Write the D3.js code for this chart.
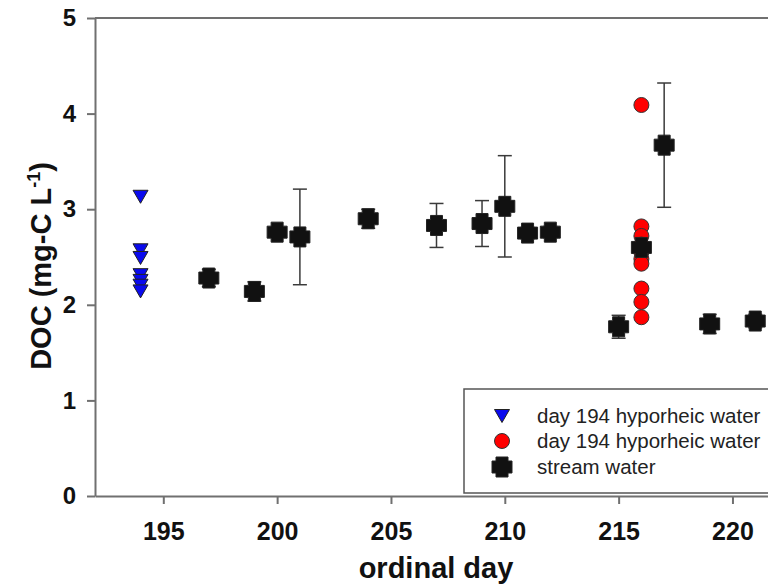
<!DOCTYPE html>
<html><head><meta charset="utf-8">
<script src="https://cdn.jsdelivr.net/npm/d3@7/dist/d3.min.js"></script>
<style>html,body{margin:0;padding:0;background:#fff;}svg{display:block;}</style>
</head><body>
<script>
// Data
const triDay = 194;
const triValues = [3.13, 2.57, 2.49, 2.31, 2.25, 2.20, 2.14];
const circDay = 216;
const circValues = [4.09, 2.82, 2.72, 2.63, 2.55, 2.48, 2.43, 2.17, 2.03, 1.87];
const streamDays = [197, 199, 200, 201, 204, 207, 209, 210, 211, 212, 215, 216, 217, 219, 221];
const streamValues = [2.28, 2.14, 2.76, 2.71, 2.90, 2.83, 2.85, 3.03, 2.75, 2.76, 1.77, 2.60, 3.67, 1.80, 1.83];
const streamErr = [0.09, 0.10, 0.05, 0.50, 0.10, 0.23, 0.24, 0.53, 0.06, 0.06, 0.12, 0.05, 0.65, 0.10, 0.07];
const xTicks = [195, 200, 205, 210, 215, 220];
const yTicks = [0, 1, 2, 3, 4, 5];
const legendLabels = ["day 194 hyporheic water", "day 194 hyporheic water", "stream water"];

const W = 768, H = 586;
const svg = d3.select("body").append("svg").attr("width", W).attr("height", H);
const x = d3.scaleLinear().domain([192, 222]).range([95, 778]);
const y = d3.scaleLinear().domain([0, 5]).range([496, 18]);
const axisColor = "#707070";
const font = "'Liberation Sans', Arial, sans-serif";

// frame top line
svg.append("line").attr("x1", x(192)).attr("x2", W + 20).attr("y1", y(5)).attr("y2", y(5))
  .attr("stroke", axisColor).attr("stroke-width", 2);

// x axis
const gx = svg.append("g").attr("transform", `translate(0,${y(0)})`)
  .call(d3.axisBottom(x).tickValues(xTicks).tickFormat(d3.format("d")).tickSize(8).tickSizeOuter(0).tickPadding(18));
gx.select(".domain").attr("stroke", axisColor).attr("stroke-width", 2);
gx.selectAll(".tick line").attr("stroke", axisColor).attr("stroke-width", 2);
gx.selectAll(".tick text").attr("font-family", font).attr("font-weight", "bold")
  .attr("font-size", 25).attr("fill", "#111");

// y axis
const gy = svg.append("g").attr("transform", `translate(${x(192)},0)`)
  .call(d3.axisLeft(y).tickValues(yTicks).tickFormat(d3.format("d")).tickSize(8).tickSizeOuter(0).tickPadding(11));
gy.select(".domain").attr("stroke", axisColor).attr("stroke-width", 2);
gy.selectAll(".tick line").attr("stroke", axisColor).attr("stroke-width", 2);
gy.selectAll(".tick text").attr("font-family", font).attr("font-weight", "bold")
  .attr("font-size", 24).attr("fill", "#111");

// axis titles
svg.append("text").attr("x", 436).attr("y", 578).attr("text-anchor", "middle")
  .attr("font-family", font).attr("font-weight", "bold").attr("font-size", 29).attr("fill", "#111")
  .text("ordinal day");
const yt = svg.append("text").attr("transform", "translate(51,266) rotate(-90)").attr("text-anchor", "middle")
  .attr("font-family", font).attr("font-weight", "bold").attr("font-size", 29).attr("fill", "#111");
yt.append("tspan").text("DOC (mg-C L");
yt.append("tspan").attr("dy", -11).attr("font-size", 18).text("-1");
yt.append("tspan").attr("dy", 11).text(")");

// shapes
const triPath = "M-7.5,-6.5 L7.5,-6.5 L0,6.5 Z";
function crossD() {
  const L = 10, a = 6;
  return `M${-a},${-L}H${a}V${-a}H${L}V${a}H${a}V${L}H${-a}V${a}H${-L}V${-a}H${-a}Z`;
}

// error bars
const eg = svg.append("g");
streamDays.forEach((d, i) => {
  const cx = x(d), v = streamValues[i], e = streamErr[i];
  eg.append("line").attr("x1", cx).attr("x2", cx).attr("y1", y(v + e)).attr("y2", y(v - e))
    .attr("stroke", "#3a3a3a").attr("stroke-width", 1.5);
  [v + e, v - e].forEach(t => eg.append("line").attr("x1", cx - 7).attr("x2", cx + 7)
    .attr("y1", y(t)).attr("y2", y(t)).attr("stroke", "#3a3a3a").attr("stroke-width", 1.5));
});

// triangles
svg.append("g").selectAll("path").data(triValues).join("path")
  .attr("d", triPath).attr("transform", v => `translate(${x(triDay)},${y(v)})`)
  .attr("fill", "#0a0aee").attr("stroke", "#222").attr("stroke-width", 1);

// circles
svg.append("g").selectAll("circle").data(circValues).join("circle")
  .attr("cx", x(circDay)).attr("cy", v => y(v)).attr("r", 7.5)
  .attr("fill", "#ff0000").attr("stroke", "#333").attr("stroke-width", 1);

// crosses
svg.append("g").selectAll("path").data(streamDays).join("path")
  .attr("d", crossD()).attr("transform", (d, i) => `translate(${x(d)},${y(streamValues[i])})`)
  .attr("fill", "#111").attr("stroke", "#222").attr("stroke-width", 1).attr("stroke-linejoin", "round");

// legend
const lg = svg.append("g");
lg.append("rect").attr("x", 464).attr("y", 389).attr("width", 330).attr("height", 104)
  .attr("fill", "#fff").attr("stroke", "#555").attr("stroke-width", 1.5);
const ly = [416, 441, 467];
lg.append("path").attr("d", triPath).attr("transform", `translate(502,${ly[0]})`)
  .attr("fill", "#0a0aee").attr("stroke", "#222");
lg.append("circle").attr("cx", 502).attr("cy", ly[1]).attr("r", 7.5)
  .attr("fill", "#ff0000").attr("stroke", "#333");
lg.append("path").attr("d", crossD()).attr("transform", `translate(502,${ly[2]})`)
  .attr("fill", "#111").attr("stroke", "#222").attr("stroke-linejoin", "round");
legendLabels.forEach((t, i) => lg.append("text").attr("x", 537).attr("y", ly[i] + 7)
  .attr("font-family", font).attr("font-size", 20.5).attr("fill", "#222").text(t));
</script>
</body></html>
